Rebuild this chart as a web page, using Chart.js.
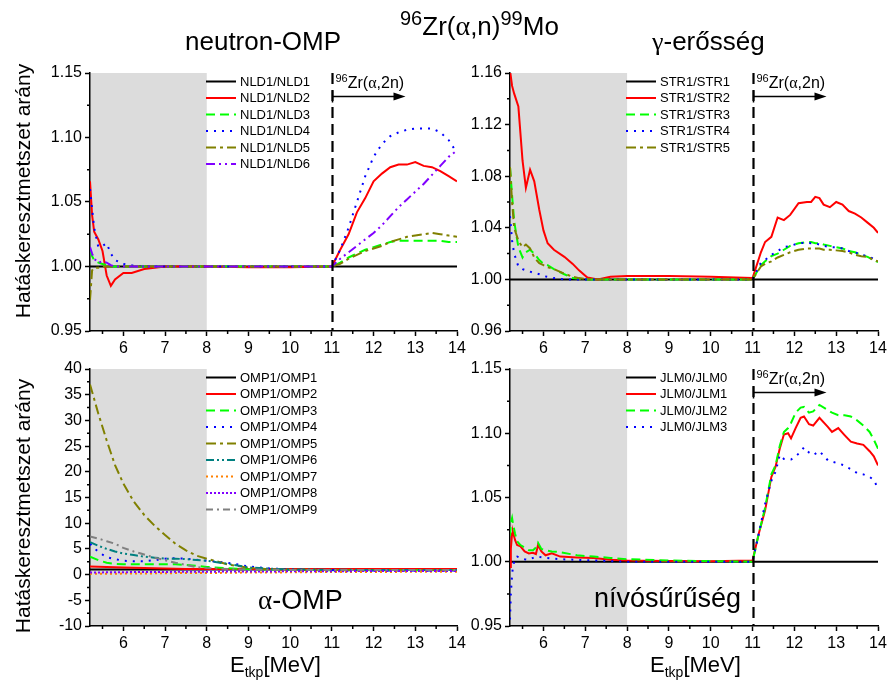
<!DOCTYPE html>
<html lang="hu">
<head>
<meta charset="utf-8">
<title>96Zr(α,n)99Mo hatáskeresztmetszet arányok</title>
<script src="https://cdn.jsdelivr.net/npm/chart.js@4.4.1/dist/chart.umd.min.js"></script>
<style>
    html, body { margin: 0; padding: 0; background: #fff; }
    #stage {
        position: relative; width: 889px; height: 685px; overflow: hidden;
        font-family: 'Liberation Sans', Arial, sans-serif; color: #000;
    }
    #stage canvas { position: absolute; left: 0; top: 0; }
    .lbl { position: absolute; white-space: nowrap; line-height: 1; }
    .greek { font-family: 'Liberation Serif', 'Times New Roman', serif; }
    .shift { position: relative; }
    .ylab {
        position: absolute; font-size: 21px; white-space: nowrap; line-height: 1;
        transform: translate(-50%, -50%) rotate(-90deg);
    }
</style>
</head>
<body>
<div id="stage">
    <canvas id="chartNld" width="889" height="685"></canvas>
    <canvas id="chartStr" width="889" height="685"></canvas>
    <canvas id="chartOmp" width="889" height="685"></canvas>
    <canvas id="chartJlm" width="889" height="685"></canvas>

    <div class="lbl" style="left:185px;top:28px;font-size:26px">neutron-OMP</div>
    <div class="lbl" style="left:400px;top:12px;font-size:26px"><span class="shift" style="font-size:20px;top:-10px">96</span>Zr(<span class="greek" style="font-size:28px">α</span>,n)<span class="shift" style="font-size:20px;top:-10px">99</span>Mo</div>
    <div class="lbl" style="left:652px;top:28px;font-size:26px"><span class="greek">γ</span>-erősség</div>

    <div class="ylab" style="left:22px;top:191px">Hatáskeresztmetszet arány</div>
    <div class="ylab" style="left:22px;top:506px">Hatáskeresztmetszet arány</div>

    <div class="lbl" style="left:230px;top:654px;font-size:22px">E<span class="shift" style="font-size:14px;top:5px">tkp</span>[MeV]</div>
    <div class="lbl" style="left:650px;top:654px;font-size:22px">E<span class="shift" style="font-size:14px;top:5px">tkp</span>[MeV]</div>

    <div class="lbl" style="left:258px;top:587px;font-size:27px"><span class="greek">α</span>-OMP</div>
    <div class="lbl" style="left:594px;top:585px;font-size:27px">nívósűrűség</div>
</div>

<script>
(function () {
    'use strict';

    // ---- tick labels ----
    const xTicks = [6, 7, 8, 9, 10, 11, 12, 13, 14];
    const yTicksNld = [0.95, 1.00, 1.05, 1.10, 1.15];
    const yTicksStr = [0.96, 1.00, 1.04, 1.08, 1.12, 1.16];
    const yTicksOmp = [-10, -5, 0, 5, 10, 15, 20, 25, 30, 35, 40];
    const yTicksJlm = [0.95, 1.00, 1.05, 1.10, 1.15];

    // ---- neutron-OMP panel (NLD ratios) ----
    const energyNld = [5.2, 5.25, 5.3, 5.4, 5.5, 5.6, 5.7, 5.8, 6.0, 6.2, 6.5, 7.0, 8.0, 9.0, 10.0, 11.0,
        11.2, 11.4, 11.6, 11.8, 12.0, 12.2, 12.4, 12.6, 12.8, 13.0, 13.2, 13.4, 13.6, 13.8, 14.0];
    const nld1 = [1, 1, 1, 1, 1, 1, 1, 1, 1, 1, 1, 1, 1, 1, 1, 1, 1, 1, 1, 1, 1, 1, 1, 1, 1, 1, 1, 1, 1, 1, 1];
    const nld2 = [1.066, 1.040, 1.027, 1.021, 1.012, 0.993, 0.985, 0.990, 0.995, 0.995, 0.998, 1.000, 1.000, 0.9995, 0.9995, 1.000,
        1.013, 1.025, 1.042, 1.053, 1.066, 1.072, 1.077, 1.079, 1.079, 1.081, 1.078, 1.077, 1.074, 1.070, 1.066];
    const nld3 = [1.012, 1.008, 1.005, 1.003, 1.002, 1.001, 1.000, 1.000, 1.000, 1.000, 1.000, 1.000, 1.000, 1.000, 1.000, 1.000,
        1.003, 1.007, 1.010, 1.013, 1.015, 1.017, 1.019, 1.020, 1.020, 1.020, 1.020, 1.020, 1.020, 1.019, 1.019];
    const nld4 = [1.060, 1.045, 1.030, 1.015, 1.016, 1.018, 1.010, 1.005, 1.002, 1.001, 1.000, 1.000, 1.000, 1.000, 1.000, 1.000,
        1.013, 1.030, 1.050, 1.070, 1.085, 1.095, 1.101, 1.104, 1.106, 1.107, 1.107, 1.107, 1.104, 1.098, 1.088];
    const nld5 = [0.974, 0.997, 0.999, 0.999, 1.000, 1.000, 1.000, 1.000, 1.000, 1.000, 1.000, 1.000, 1.000, 1.000, 1.000, 1.000,
        1.002, 1.006, 1.009, 1.012, 1.014, 1.016, 1.019, 1.021, 1.023, 1.024, 1.025, 1.026, 1.025, 1.024, 1.023];
    const nld6 = [1.015, 1.010, 1.006, 1.003, 1.004, 1.003, 1.001, 1.000, 1.000, 1.000, 1.000, 1.000, 1.000, 1.000, 1.000, 1.000,
        1.006, 1.011, 1.016, 1.021, 1.026, 1.032, 1.039, 1.046, 1.052, 1.058, 1.064, 1.071, 1.078, 1.085, 1.090];

    // ---- gamma strength panel (STR ratios) ----
    const energyStr = [5.2, 5.25, 5.3, 5.4, 5.5, 5.58, 5.68, 5.78, 5.9, 6.0, 6.1, 6.25, 6.5, 6.7, 6.85, 7.05, 7.3, 7.6, 8.0, 9.0, 10.0, 11.0,
        11.2, 11.3, 11.45, 11.6, 11.75, 11.9, 12.1, 12.3, 12.4, 12.5, 12.6, 12.7, 12.85, 13.0, 13.15, 13.3, 13.45, 13.6, 13.75, 13.9, 14.0];
    const str1 = [1, 1, 1, 1, 1, 1, 1, 1, 1, 1, 1, 1, 1, 1, 1, 1, 1, 1, 1, 1, 1, 1,
        1, 1, 1, 1, 1, 1, 1, 1, 1, 1, 1, 1, 1, 1, 1, 1, 1, 1, 1, 1, 1];
    const str2 = [1.162, 1.150, 1.144, 1.134, 1.092, 1.071, 1.085, 1.076, 1.054, 1.038, 1.028, 1.023, 1.0175, 1.012, 1.007, 1.0015, 1.000, 1.002, 1.0026, 1.0026, 1.002, 1.001,
        1.021, 1.029, 1.033, 1.048, 1.046, 1.050, 1.059, 1.060, 1.060, 1.064, 1.063, 1.058, 1.056, 1.060, 1.058, 1.053, 1.051, 1.048, 1.044, 1.040, 1.036];
    const str3 = [1.087, 1.065, 1.045, 1.025, 1.017, 1.021, 1.023, 1.020, 1.015, 1.012, 1.011, 1.008, 1.004, 1.001, 1.0005, 1.000, 1.000, 1.000, 1.000, 1.000, 1.000, 1.000,
        1.011, 1.014, 1.018, 1.020, 1.023, 1.026, 1.028, 1.029, 1.029, 1.028, 1.028, 1.027, 1.026, 1.025, 1.024, 1.022, 1.021, 1.019, 1.0175, 1.015, 1.0135];
    const str4 = [1.049, 1.030, 1.020, 1.010, 1.008, 1.007, 1.006, 1.005, 1.004, 1.0026, 1.002, 1.001, 1.000, 1.000, 1.000, 1.000, 1.000, 1.000, 1.000, 1.000, 1.000, 1.000,
        1.013, 1.015, 1.019, 1.022, 1.025, 1.026, 1.028, 1.0285, 1.028, 1.028, 1.027, 1.026, 1.025, 1.025, 1.024, 1.022, 1.021, 1.019, 1.018, 1.016, 1.015];
    const str5 = [1.087, 1.060, 1.040, 1.030, 1.025, 1.027, 1.024, 1.017, 1.0125, 1.011, 1.0095, 1.008, 1.0045, 1.002, 1.001, 1.000, 1.000, 1.000, 1.000, 1.000, 1.000, 1.000,
        1.010, 1.012, 1.014, 1.017, 1.019, 1.021, 1.023, 1.024, 1.024, 1.024, 1.024, 1.023, 1.023, 1.0225, 1.022, 1.021, 1.019, 1.018, 1.0175, 1.015, 1.014];

    // ---- alpha-OMP panel (OMP ratios) ----
    const energyOmp = [5.2, 5.4, 5.6, 5.8, 6.0, 6.25, 6.5, 6.75, 7.0, 7.25, 7.5, 7.75, 8.0, 8.5, 9.0, 9.5, 10.0, 11.0, 12.0, 13.0, 14.0];
    const omp1 = [1, 1, 1, 1, 1, 1, 1, 1, 1, 1, 1, 1, 1, 1, 1, 1, 1, 1, 1, 1, 1];
    const omp2 = [1.6, 1.55, 1.5, 1.45, 1.4, 1.35, 1.3, 1.25, 1.2, 1.15, 1.1, 1.1, 1.1, 1.1, 1.1, 1.1, 1.1, 1.1, 1.1, 1.1, 1.1];
    const omp3 = [3.5, 2.8, 2.3, 2.1, 2.0, 2.0, 2.0, 2.0, 2.0, 2.0, 1.9, 1.7, 1.5, 1.25, 1.05, 0.95, 0.9, 0.85, 0.85, 0.85, 0.85];
    const omp4 = [6.0, 4.4, 3.4, 3.0, 2.7, 2.6, 2.6, 2.8, 3.1, 3.2, 3.1, 2.9, 2.7, 2.3, 1.6, 1.2, 1.0, 0.9, 0.8, 0.8, 0.8];
    const omp5 = [37.0, 31.3, 26.1, 21.3, 17.7, 14.2, 11.6, 9.5, 7.7, 6.0, 4.7, 3.7, 3.1, 2.0, 1.3, 1.05, 0.95, 0.9, 0.9, 0.9, 0.9];
    const omp6 = [6.3, 5.6, 5.0, 4.5, 4.1, 3.8, 3.5, 3.3, 3.1, 3.1, 3.0, 2.85, 2.7, 2.1, 1.4, 1.15, 1.0, 0.95, 0.9, 0.9, 0.9];
    const omp7 = [0.15, 0.15, 0.15, 0.15, 0.2, 0.2, 0.2, 0.25, 0.25, 0.3, 0.3, 0.3, 0.3, 0.35, 0.4, 0.4, 0.45, 0.5, 0.5, 0.55, 0.55];
    const omp8 = [0.4, 0.4, 0.45, 0.45, 0.45, 0.5, 0.5, 0.5, 0.5, 0.55, 0.55, 0.55, 0.55, 0.6, 0.6, 0.6, 0.65, 0.65, 0.7, 0.7, 0.7];
    const omp9 = [7.4, 7.0, 6.5, 6.0, 5.2, 4.5, 3.9, 3.3, 2.8, 2.3, 1.9, 1.45, 1.3, 1.1, 1.0, 0.95, 0.9, 0.9, 0.9, 0.9, 0.9];

    // ---- level density panel (JLM ratios) ----
    const energyJlm = [5.2, 5.22, 5.25, 5.27, 5.32, 5.37, 5.45, 5.55, 5.65, 5.75, 5.82, 5.87, 5.95, 6.05, 6.2, 6.4, 6.8, 7.2, 7.6, 8.0, 9.0, 10.0, 11.0,
        11.15, 11.3, 11.45, 11.55, 11.65, 11.75, 11.85, 11.92, 12.03, 12.15, 12.23, 12.35, 12.45, 12.6, 12.8, 12.9, 13.05, 13.2, 13.35, 13.5, 13.65, 13.8, 13.9, 14.0];
    const jlm0 = [1, 1, 1, 1, 1, 1, 1, 1, 1, 1, 1, 1, 1, 1, 1, 1, 1, 1, 1, 1, 1, 1, 1,
        1, 1, 1, 1, 1, 1, 1, 1, 1, 1, 1, 1, 1, 1, 1, 1, 1, 1, 1, 1, 1, 1, 1, 1];
    const jlm1 = [0.996, 1.010, 1.022, 1.0233, 1.017, 1.013, 1.012, 1.008, 1.0065, 1.007, 1.006, 1.013, 1.008, 1.005, 1.0065, 1.004, 1.0034, 1.003, 1.0015, 1.001, 1.0005, 1.0003, 1.001,
        1.022, 1.040, 1.066, 1.074, 1.088, 1.099, 1.100, 1.096, 1.104, 1.112, 1.113, 1.107, 1.106, 1.112, 1.105, 1.101, 1.104, 1.0986, 1.0934, 1.092, 1.091, 1.086, 1.082, 1.075];
    const jlm2 = [1.020, 1.030, 1.034, 1.030, 1.022, 1.016, 1.013, 1.011, 1.009, 1.009, 1.011, 1.0148, 1.010, 1.009, 1.008, 1.0075, 1.005, 1.004, 1.003, 1.002, 1.001, 1.0005, 1.000,
        1.022, 1.042, 1.068, 1.075, 1.090, 1.101, 1.104, 1.108, 1.116, 1.120, 1.1205, 1.116, 1.117, 1.122, 1.118, 1.116, 1.114, 1.114, 1.113, 1.110, 1.106, 1.101, 1.095, 1.088];
    const jlm3 = [0.955, 0.975, 0.990, 0.996, 1.003, 1.004, 1.003, 1.002, 1.0015, 1.003, 1.004, 1.004, 1.0035, 1.003, 1.0025, 1.002, 1.0015, 1.001, 1.0005, 1.000, 1.000, 1.000, 1.000,
        1.022, 1.045, 1.063, 1.070, 1.083, 1.080, 1.0796, 1.0796, 1.082, 1.0856, 1.089, 1.085, 1.083, 1.086, 1.079, 1.078, 1.0765, 1.075, 1.072, 1.069, 1.068, 1.066, 1.0636, 1.057];

    // ---- page layout ----
    const W = 889;
    const H = 685;
    const Y_AXIS_W = 60;
    const X_AXIS_H = 40;
    const FONT = "'Liberation Sans', Arial, sans-serif";
    const SERIF = "'Liberation Serif', 'Times New Roman', serif";

    const LINE_STYLES = {
        black:   { color: '#000000', dash: [] },
        red:     { color: '#ff0000', dash: [] },
        green:   { color: '#00ff00', dash: [9, 5] },
        blue:    { color: '#0000ff', dash: [2, 6] },
        olive:   { color: '#808000', dash: [10, 4, 3, 4] },
        violet:  { color: '#8000ff', dash: [9, 4, 2, 4, 2, 4] },
        teal:    { color: '#008080', dash: [8, 3, 2, 3, 2, 3] },
        orange:  { color: '#ff8000', dash: [2, 3] },
        violet2: { color: '#8000ff', dash: [2, 2] },
        grey:    { color: '#808080', dash: [7, 4, 2, 4] }
    };

    const panels = [
        {
            canvas: 'chartNld', area: { left: 90, top: 73, right: 457, bottom: 331 },
            energy: energyNld, yMin: 0.95, yMax: 1.15, yTicks: yTicksNld, digits: 2, marker: true,
            series: [
                ['NLD1/NLD1', nld1, 'black'], ['NLD1/NLD2', nld2, 'red'], ['NLD1/NLD3', nld3, 'green'],
                ['NLD1/NLD4', nld4, 'blue'], ['NLD1/NLD5', nld5, 'olive'], ['NLD1/NLD6', nld6, 'violet']
            ]
        },
        {
            canvas: 'chartStr', area: { left: 510, top: 73, right: 878, bottom: 331 },
            energy: energyStr, yMin: 0.96, yMax: 1.16, yTicks: yTicksStr, digits: 2, marker: true,
            series: [
                ['STR1/STR1', str1, 'black'], ['STR1/STR2', str2, 'red'], ['STR1/STR3', str3, 'green'],
                ['STR1/STR4', str4, 'blue'], ['STR1/STR5', str5, 'olive']
            ]
        },
        {
            canvas: 'chartOmp', area: { left: 90, top: 369, right: 457, bottom: 626 },
            energy: energyOmp, yMin: -10, yMax: 40, yTicks: yTicksOmp, digits: 0, marker: false,
            series: [
                ['OMP1/OMP1', omp1, 'black'], ['OMP1/OMP2', omp2, 'red'], ['OMP1/OMP3', omp3, 'green'],
                ['OMP1/OMP4', omp4, 'blue'], ['OMP1/OMP5', omp5, 'olive'], ['OMP1/OMP6', omp6, 'teal'],
                ['OMP1/OMP7', omp7, 'orange'], ['OMP1/OMP8', omp8, 'violet2'], ['OMP1/OMP9', omp9, 'grey']
            ]
        },
        {
            canvas: 'chartJlm', area: { left: 510, top: 369, right: 878, bottom: 626 },
            energy: energyJlm, yMin: 0.95, yMax: 1.15, yTicks: yTicksJlm, digits: 2, marker: true,
            series: [
                ['JLM0/JLM0', jlm0, 'black'], ['JLM0/JLM1', jlm1, 'red'],
                ['JLM0/JLM2', jlm2, 'green'], ['JLM0/JLM3', jlm3, 'blue']
            ]
        }
    ];

    function drawRich(ctx, x, y, parts) {
        parts.forEach((p) => {
            ctx.font = `${p.size}px ${p.family || FONT}`;
            ctx.fillText(p.text, x, y + (p.dy || 0));
            x += ctx.measureText(p.text).width;
        });
    }

    function minorTicks(majors, min, max) {
        const step = majors[1] - majors[0];
        const out = [];
        majors.forEach((v) => {
            if (v - step / 2 >= min - 1e-9) out.push(v - step / 2);
        });
        if (majors[majors.length - 1] + step / 2 <= max + 1e-9) out.push(majors[majors.length - 1] + step / 2);
        return out;
    }

    const panelDecor = {
        id: 'panelDecor',
        beforeDraw(chart, args, opts) {
            const { ctx, chartArea: a, scales: { x } } = chart;
            const xEnd = x.getPixelForValue(opts.shadeTo);
            ctx.save();
            ctx.fillStyle = '#dcdcdc';
            ctx.fillRect(a.left, a.top, xEnd - a.left, a.bottom - a.top);
            ctx.restore();
        },
        afterDatasetsDraw(chart, args, opts) {
            const { ctx, chartArea: a, scales: { x, y } } = chart;
            ctx.save();

            // minor ticks
            ctx.strokeStyle = '#000';
            ctx.lineWidth = 1.5;
            ctx.beginPath();
            minorTicks(opts.xMajor, x.min, x.max).forEach((v) => {
                const px = x.getPixelForValue(v);
                ctx.moveTo(px, a.bottom);
                ctx.lineTo(px, a.bottom + 3);
            });
            minorTicks(opts.yMajor, y.min, y.max).forEach((v) => {
                const py = y.getPixelForValue(v);
                ctx.moveTo(a.left, py);
                ctx.lineTo(a.left - 3, py);
            });
            ctx.stroke();

            // 96Zr(a,2n) threshold marker
            if (opts.marker) {
                const px = Math.round(x.getPixelForValue(opts.threshold)) + 0.5;
                ctx.setLineDash([11, 6]);
                ctx.lineWidth = 2.2;
                ctx.beginPath();
                ctx.moveTo(px, a.top);
                ctx.lineTo(px, a.bottom);
                ctx.stroke();
                ctx.setLineDash([]);

                const ay = a.top + 23.5;
                ctx.lineWidth = 1.5;
                ctx.beginPath();
                ctx.moveTo(px, ay - 6);
                ctx.lineTo(px, ay + 6);
                ctx.moveTo(px, ay);
                ctx.lineTo(px + 63, ay);
                ctx.stroke();
                ctx.fillStyle = '#000';
                ctx.beginPath();
                ctx.moveTo(px + 73, ay);
                ctx.lineTo(px + 61, ay - 4);
                ctx.lineTo(px + 61, ay + 4);
                ctx.closePath();
                ctx.fill();

                ctx.textBaseline = 'alphabetic';
                drawRich(ctx, px + 3, a.top + 15, [
                    { text: '96', size: 11, dy: -6 },
                    { text: 'Zr(', size: 16 },
                    { text: 'α', size: 16, family: SERIF },
                    { text: ',2n)', size: 16 }
                ]);
            }

            // legend
            const lx = a.left + 116;
            let ly = a.top + 8.5;
            ctx.font = `13px ${FONT}`;
            ctx.textBaseline = 'middle';
            ctx.fillStyle = '#000';
            chart.data.datasets.forEach((ds) => {
                ctx.strokeStyle = ds.borderColor;
                ctx.lineWidth = ds.borderWidth;
                ctx.setLineDash(ds.borderDash);
                ctx.beginPath();
                ctx.moveTo(lx, ly);
                ctx.lineTo(lx + 30, ly);
                ctx.stroke();
                ctx.setLineDash([]);
                ctx.fillText(ds.label, lx + 34, ly + 0.5);
                ly += 16.5;
            });

            ctx.restore();
        }
    };

    function buildPanel(panel) {
        const n = panel.series.length;
        const datasets = panel.series.map(([label, values, styleKey], i) => {
            const style = LINE_STYLES[styleKey];
            return {
                label,
                data: panel.energy.map((e, k) => ({ x: e, y: values[k] })),
                borderColor: style.color,
                borderDash: style.dash,
                borderWidth: 2,
                pointRadius: 0,
                fill: false,
                tension: 0,
                order: n - i
            };
        });

        const a = panel.area;
        new Chart(document.getElementById(panel.canvas), {
            type: 'line',
            data: { datasets },
            plugins: [panelDecor],
            options: {
                responsive: false,
                animation: false,
                devicePixelRatio: 1,
                events: [],
                layout: {
                    padding: {
                        left: a.left - Y_AXIS_W,
                        right: W - a.right,
                        top: a.top,
                        bottom: H - a.bottom - X_AXIS_H
                    }
                },
                plugins: {
                    legend: { display: false },
                    tooltip: { enabled: false },
                    panelDecor: {
                        shadeTo: 8,
                        threshold: 11,
                        marker: panel.marker,
                        xMajor: xTicks,
                        yMajor: panel.yTicks
                    }
                },
                scales: {
                    x: {
                        type: 'linear',
                        position: 'bottom',
                        min: 5.2,
                        max: 14,
                        afterBuildTicks: (s) => { s.ticks = xTicks.map((v) => ({ value: v })); },
                        afterFit: (s) => { s.height = X_AXIS_H; s.paddingLeft = 0; s.paddingRight = 0; },
                        ticks: {
                            color: '#000',
                            font: { family: FONT, size: 16 },
                            padding: 3,
                            maxRotation: 0,
                            autoSkip: false,
                            callback: (v) => String(v)
                        },
                        grid: { drawOnChartArea: false, drawTicks: true, tickLength: 5, tickColor: '#000', tickWidth: 1.5 },
                        border: { display: true, color: '#000', width: 1.5 }
                    },
                    y: {
                        type: 'linear',
                        position: 'left',
                        min: panel.yMin,
                        max: panel.yMax,
                        afterBuildTicks: (s) => { s.ticks = panel.yTicks.map((v) => ({ value: v })); },
                        afterFit: (s) => { s.width = Y_AXIS_W; s.paddingTop = 0; s.paddingBottom = 0; },
                        ticks: {
                            color: '#000',
                            font: { family: FONT, size: 16 },
                            padding: 3,
                            autoSkip: false,
                            callback: (v) => Number(v).toFixed(panel.digits)
                        },
                        grid: { drawOnChartArea: false, drawTicks: true, tickLength: 5, tickColor: '#000', tickWidth: 1.5 },
                        border: { display: true, color: '#000', width: 1.5 }
                    }
                }
            }
        });
    }

    panels.forEach(buildPanel);
})();
</script>
</body>
</html>
